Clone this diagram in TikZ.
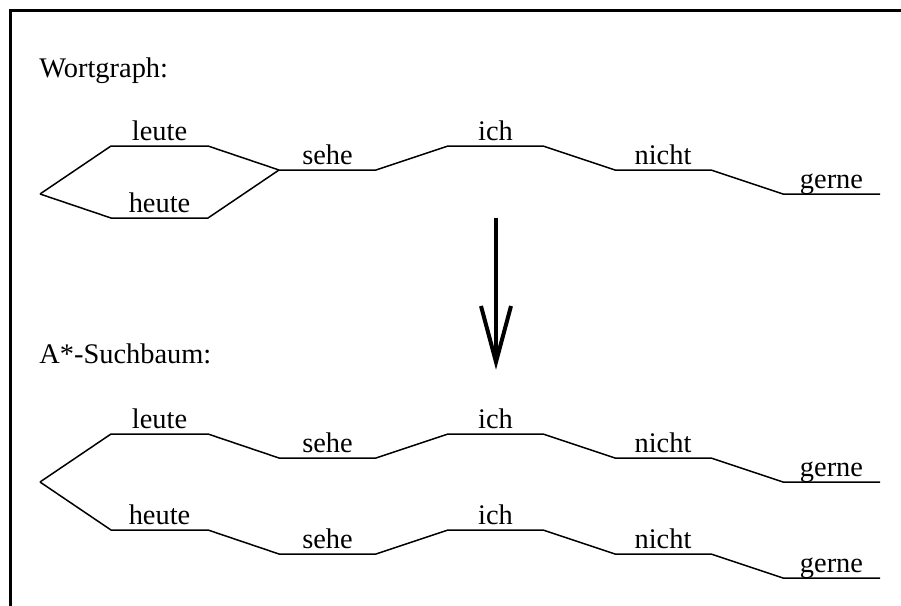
\documentclass[tikz,border=0pt]{standalone}
\usepackage{fontspec}
\setmainfont{Liberation Serif}
\begin{document}
\begin{tikzpicture}[x=0.5pt,y=-0.5pt,
  edge/.style={line width=0.75pt, line join=miter},
  lbl/.style={font=\fontsize{14.2}{17}\selectfont, anchor=base, inner sep=0pt, yshift=3pt},
  title/.style={font=\fontsize{14.2}{17}\selectfont, anchor=base west, inner sep=0pt},
  frame/.style={line width=1.5pt}]
\useasboundingbox (0,0) rectangle (901,606);
% frame (cut at right and bottom)
\coordinate (fb) at (10,606);
\coordinate (ftl) at (10,10.5);
\coordinate (fr) at (901,10.5);
\draw[frame] (fb) -- (ftl) -- (fr);

% titles
\node[title] (t1) at (39,77) {Wortgraph:};
\node[title] (t2) at (39,363.5) {A*-Suchbaum:};

% ---------- Wortgraph ----------
\coordinate (s) at (40,194);
\coordinate (l1) at (111,146); \coordinate (l2) at (208,146);
\coordinate (h1) at (111,218); \coordinate (h2) at (208,218);
\coordinate (se1) at (279,170); \coordinate (se2) at (376,170);
\coordinate (i1) at (448,146); \coordinate (i2) at (543,146);
\coordinate (n1) at (615,170); \coordinate (n2) at (711,170);
\coordinate (g1) at (783,194); \coordinate (g2) at (880,194);
\draw[edge] (s) -- (l1) -- node[lbl]{leute} (l2) -- (se1);
\draw[edge] (s) -- (h1) -- node[lbl]{heute} (h2) -- (se1);
\draw[edge] (se1) -- node[lbl]{sehe} (se2) -- (i1) -- node[lbl]{ich} (i2)
  -- (n1) -- node[lbl]{nicht} (n2) -- (g1) -- node[lbl]{gerne} (g2);

% ---------- arrow ----------
\coordinate (a1) at (496,218);
\coordinate (a2) at (496,362);
\coordinate (bl) at (481,306);
\coordinate (br) at (511,306);
\draw[line width=2pt] (a1) -- (a2);
\draw[line width=2pt, line join=miter] (bl) -- (a2) -- (br);

% ---------- Suchbaum ----------
\coordinate (bs) at (40,482);
\coordinate (bl1) at (111,434); \coordinate (bl2) at (208,434);
\coordinate (bse1) at (279,458); \coordinate (bse2) at (376,458);
\coordinate (bi1) at (448,434); \coordinate (bi2) at (543,434);
\coordinate (bn1) at (615,458); \coordinate (bn2) at (711,458);
\coordinate (bg1) at (783,482); \coordinate (bg2) at (880,482);
\draw[edge] (bs) -- (bl1) -- node[lbl]{leute} (bl2) -- (bse1) -- node[lbl]{sehe} (bse2)
  -- (bi1) -- node[lbl]{ich} (bi2) -- (bn1) -- node[lbl]{nicht} (bn2)
  -- (bg1) -- node[lbl]{gerne} (bg2);

\coordinate (ch1) at (111,530); \coordinate (ch2) at (208,530);
\coordinate (cse1) at (279,554); \coordinate (cse2) at (376,554);
\coordinate (ci1) at (448,530); \coordinate (ci2) at (543,530);
\coordinate (cn1) at (615,554); \coordinate (cn2) at (711,554);
\coordinate (cg1) at (783,578); \coordinate (cg2) at (880,578);
\draw[edge] (bs) -- (ch1) -- node[lbl]{heute} (ch2) -- (cse1) -- node[lbl]{sehe} (cse2)
  -- (ci1) -- node[lbl]{ich} (ci2) -- (cn1) -- node[lbl]{nicht} (cn2)
  -- (cg1) -- node[lbl]{gerne} (cg2);
\end{tikzpicture}
\end{document}
